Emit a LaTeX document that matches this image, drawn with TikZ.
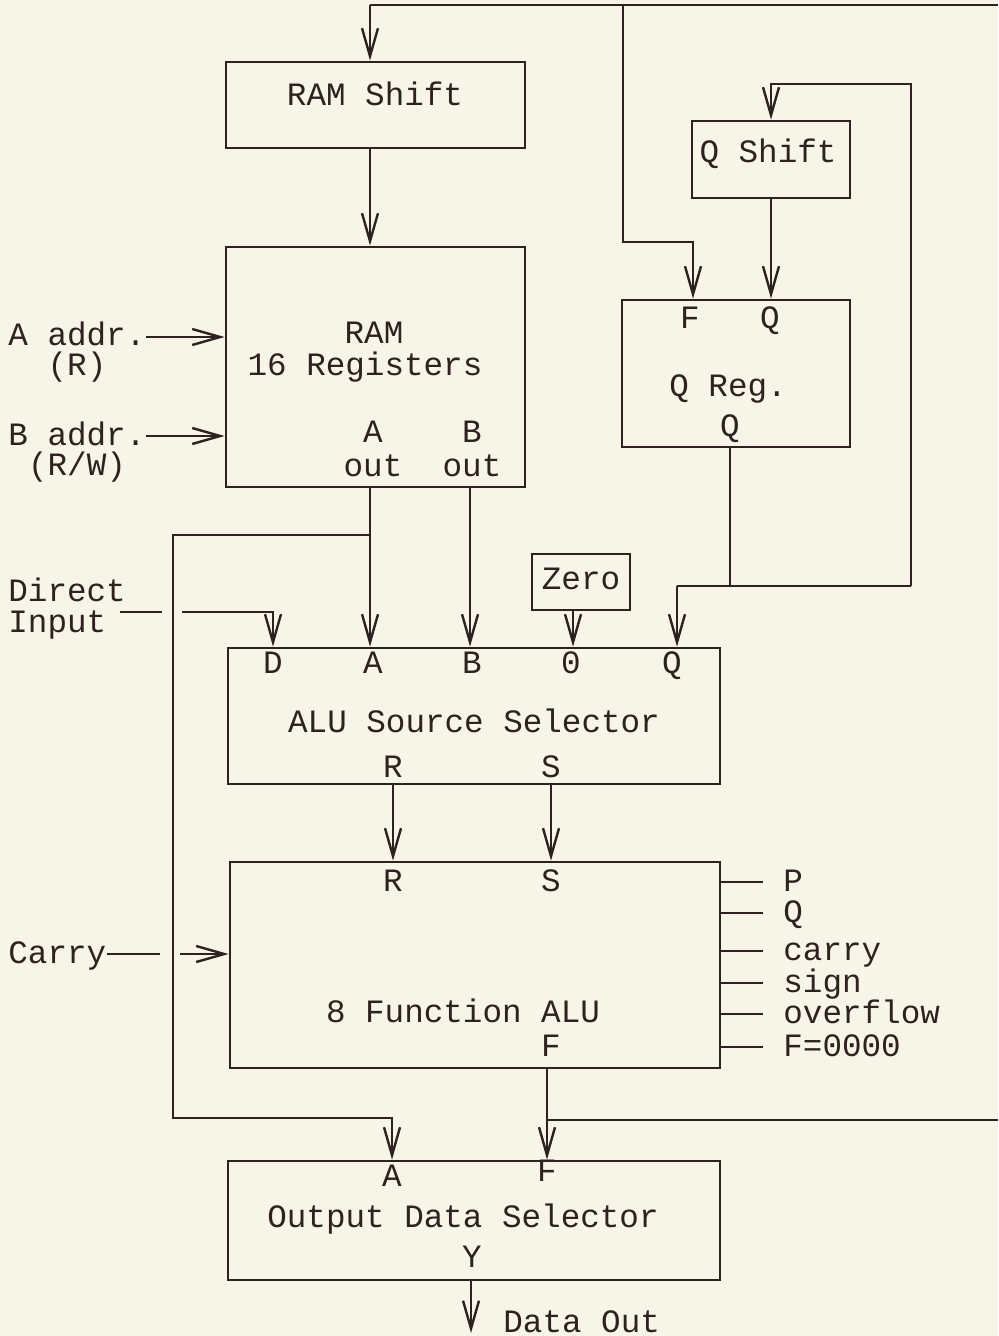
\documentclass[tikz,border=0pt]{standalone}
\usepackage{fontspec}
\setmonofont{Liberation Mono}
\usepackage{tikz}
\usetikzlibrary{arrows.meta}
\definecolor{paper}{HTML}{F6F5E7}
\definecolor{ink}{HTML}{2E2220}
\tikzset{
  blk/.style={draw=ink, line width=1.4pt, inner sep=0pt},
  lbl/.style={text=ink, inner sep=0pt, text height=9pt, text depth=0pt,
    font=\ttfamily\fontsize{16.3}{19}\selectfont},
  wire/.style={draw=ink, line width=1.2pt},
  arr/.style={wire, -{Straight Barb[length=14pt,width=8pt]}},
}
\begin{document}
\begin{tikzpicture}[x=0.5pt, y=-0.5pt]
	\fill[paper] (0,0) rectangle (998,1336);
	\useasboundingbox (0,0) rectangle (998,1336);
	
	% blocks
	\node[blk, minimum width=149.5pt, minimum height=43pt] (ramshift) at (375.5,105) {};
	\node[blk, minimum width=149.5pt, minimum height=120pt] (ram) at (375.5,367) {};
	\node[blk, minimum width=79pt, minimum height=38.5pt] (qshift) at (771,159.5) {};
	\node[blk, minimum width=114pt, minimum height=73.5pt] (qreg) at (736,373.5) {};
	\node[blk, minimum width=49pt, minimum height=28pt] (zero) at (581,582) {};
	\node[blk, minimum width=246pt, minimum height=68pt] (srcsel) at (474,716) {};
	\node[blk, minimum width=245pt, minimum height=103pt] (alu) at (475,965) {};
	\node[blk, minimum width=246pt, minimum height=59.5pt] (outsel) at (474,1220.5) {};
	
	% texts in the blocks
	\node[lbl] (ramshiftT) at (375,97) {RAM Shift};
	\node[lbl] (ramT) at (374,335) {RAM};
	\node[lbl] (ramT2) at (365,367) {16 Registers};
	\node[lbl] (ramA) at (373,434) {A};
	\node[lbl] (ramAo) at (373,467) {out};
	\node[lbl] (ramB) at (472,434) {B};
	\node[lbl] (ramBo) at (472,467) {out};
	\node[lbl] (qshiftT) at (768,154) {Q Shift};
	\node[lbl] (qregF) at (690,320) {F};
	\node[lbl] (qregQi) at (770,320) {Q};
	\node[lbl] (qregT) at (728,387) {Q Reg.};
	\node[lbl] (qregQ) at (730,428) {Q};
	\node[lbl] (zeroT) at (581,580) {Zero};
	\node[lbl] (srcD) at (273,664) {D};
	\node[lbl] (srcA) at (373,664) {A};
	\node[lbl] (srcB) at (472,664) {B};
	\node[lbl] (src0) at (571,664) {0};
	\node[lbl] (srcQ) at (672,664) {Q};
	\node[lbl] (srcT) at (474,723) {ALU Source Selector};
	\node[lbl] (srcR) at (393,768) {R};
	\node[lbl] (srcS) at (551,768) {S};
	\node[lbl] (aluR) at (393,882) {R};
	\node[lbl] (aluS) at (551,882) {S};
	\node[lbl] (aluT) at (463,1013) {8 Function ALU};
	\node[lbl] (aluF) at (551,1047) {F};
	\node[lbl] (outA) at (392,1177) {A};
	\node[lbl] (outF) at (547,1172) {F};
	\node[lbl] (outT) at (463,1218) {Output Data Selector};
	\node[lbl] (outY) at (472,1258) {Y};
	
	% outside inputs
	\node[lbl, anchor=west] (aaddr) at (8,337) {A addr.};
	\node[lbl] (aaddr2) at (77,367) {(R)};
	\node[lbl, anchor=west] (baddr) at (8,436) {B addr.};
	\node[lbl] (baddr2) at (77,466) {(R/W)};
	\node[lbl, anchor=west] (direct) at (8,592) {Direct};
	\node[lbl, anchor=west] (input) at (8,623) {Input};
	\node[lbl, anchor=west] (carry) at (8,954) {Carry};
	\node[lbl, anchor=west] (dataout) at (503,1323) {Data Out};
	
	% top bus: F back to RAM Shift and Q Reg
	\coordinate (tA) at (370,5);
	\coordinate (tF) at (623,5);
	\coordinate (tE) at (998,5);
	\coordinate (fK) at (693,242);
	\draw[wire] (tE) -- (tA);
	\draw[arr] (tA) -- (tA |- ramshift.north);
	\draw[arr] (tF) |- (fK) -- (fK |- qreg.north);
	\draw[arr] (ramshift.south -| tA) -- (ram.north -| tA);
	
	% Q loop
	\coordinate (qT) at (771,84);
	\coordinate (qR) at (911,586);
	\coordinate (qM) at (730,586);
	\coordinate (qS) at (677,586);
	\draw[arr] (qshift.south -| qT) -- (qreg.north -| qT);
	\draw[wire] (qreg.south -| qM) -- (qM);
	\draw[arr] (qR) |- (qT) -- (qshift.north -| qT);
	\draw[wire] (qR) -- (qS);
	\draw[arr] (qS) -- (srcsel.north -| qS);
	
	% RAM in and out
	\draw[arr] (aaddr.east) -- (aaddr.east -| ram.west);
	\draw[arr] (baddr.east) -- (baddr.east -| ram.west);
	\coordinate (aJ) at (370,535);
	\coordinate (aL) at (173,535);
	\coordinate (aB) at (392,1118);
	\draw[arr] (ram.south -| aJ) -- (srcsel.north -| aJ);
	\draw[arr] (ram.south -| 470,0) -- (srcsel.north -| 470,0);
	\draw[arr] (aJ) -- (aL) |- (aB) -- (outsel.north -| aB);
	
	% direct input and zero
	\coordinate (dG1) at (162,612);
	\coordinate (dG2) at (182,612);
	\coordinate (dD) at (273,612);
	\draw[wire] (120,612) -- (dG1);
	\draw[arr] (dG2) -- (dD) -- (dD |- srcsel.north);
	\draw[arr] ([xshift=-4pt]zero.south) -- ([xshift=-4pt]zero.south |- srcsel.north);
	
	% source to ALU
	\draw[arr] (srcsel.south -| srcR) -- (alu.north -| srcR);
	\draw[arr] (srcsel.south -| srcS) -- (alu.north -| srcS);
	
	% carry in
	\coordinate (cG1) at (160,954);
	\coordinate (cG2) at (180,954);
	\draw[wire] (carry.east) -- (cG1);
	\draw[arr] (cG2) -- (cG2 -| alu.west);
	
	% status outputs
	\foreach \y/\t/\n in {882/P/stP, 913/Q/stQ, 951/carry/stC, 983/sign/stS,
	  1014/overflow/stO, 1047/F=0000/stZ} {
		\node[lbl, anchor=west] (\n) at (783,\y) {\t};
		\draw[wire] (alu.east |- \n.west) -- ([xshift=-10pt]\n.west);
	}
	
	% F out
	\coordinate (fX) at (547,1120);
	\coordinate (fE) at (998,1120);
	\draw[arr] (alu.south -| fX) -- (outsel.north -| fX);
	\draw[wire] (fX) -- (fE);
	
	% data out
	\coordinate (dOut) at (471,1333);
	\draw[arr] (outsel.south -| dOut) -- (dOut);
	
\end{tikzpicture}
\end{document}
